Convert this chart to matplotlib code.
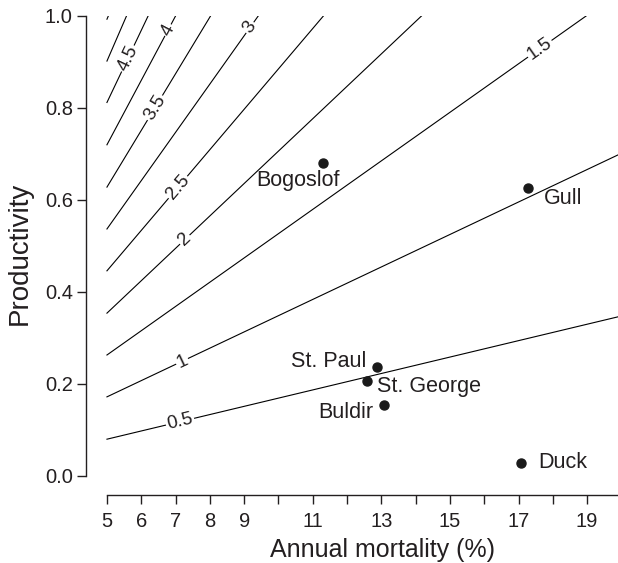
import numpy as np
import matplotlib
matplotlib.use("Agg")
import matplotlib.pyplot as plt

plt.rcParams['font.family'] = ['Liberation Sans', 'DejaVu Sans']

levels = ['0.5', '1', '1.5', '2', '2.5', '3', '3.5', '4', '4.5', '5', '5.5']
start_x = [5, 5, 5, 5, 5, 5, 5, 5, 5, 5, 5]
start_y = [0.080, 0.172, 0.263, 0.354, 0.446, 0.537, 0.628, 0.720, 0.812, 0.902, 0.993]
end_x = [19.9, 19.9, 18.97, 14.17, 11.31, 9.41, 8.02, 7.00, 6.20, 5.57, 5.04]
end_y = [0.346, 0.698, 1.0, 1.0, 1.0, 1.0, 1.0, 1.0, 1.0, 1.0, 1.0]
# where the inline labels sit (x position on each line)
label_x = [7.13, 7.19, 17.62, 7.27, 7.07, 9.17, 6.40, 6.78, 5.61, None, None]

# colonies
colonies = ['Bogoslof', 'Gull', 'St. Paul', 'St. George', 'Buldir', 'Duck']
mortality = [11.29, 17.27, 12.88, 12.59, 13.09, 17.06]
productivity = [0.681, 0.625, 0.236, 0.207, 0.154, 0.029]
# label offsets in points and alignment
offsets = [(-18, -13), (11.5, -7.5), (-8, 4), (7, -4), (-8, -5), (13, 0)]
aligns = ['center', 'left', 'right', 'left', 'right', 'left']

txt = '#231f20'

fig = plt.figure(figsize=(6.18, 5.63), dpi=100)
ax = fig.add_axes([0.1392, 0.1208, 0.8608, 0.8508])
ax.set_xlim(4.39, 19.9)
ax.set_ylim(-0.0413, 1.0)

for i in range(len(levels)):
    ax.plot([start_x[i], end_x[i]], [start_y[i], end_y[i]], color='black', lw=0.8, zorder=1)

# inline labels with a white gap
for i in range(len(levels)):
    if label_x[i] is None:
        continue
    x0, y0, x1, y1 = start_x[i], start_y[i], end_x[i], end_y[i]
    lx = label_x[i]
    ly = y0 + (y1 - y0) * (lx - x0) / (x1 - x0)
    p0 = ax.transData.transform((x0, y0))
    p1 = ax.transData.transform((x1, y1))
    ang = np.degrees(np.arctan2(p1[1] - p0[1], p1[0] - p0[0]))
    ax.text(lx, ly, levels[i], rotation=ang, rotation_mode='anchor',
            ha='center', va='center', fontsize=13.5, color=txt, zorder=2,
            bbox=dict(facecolor='white', edgecolor='none', pad=1.0))

ax.plot(mortality, productivity, 'o', color='#1a1a1a', ms=6.5, zorder=3)
for i in range(len(colonies)):
    ax.annotate(colonies[i], (mortality[i], productivity[i]), xytext=offsets[i],
                textcoords='offset points', ha=aligns[i], va='center', fontsize=15.5,
                color=txt)

for s in ['top', 'right']:
    ax.spines[s].set_visible(False)
ax.spines['left'].set_bounds(0, 1)
ax.spines['bottom'].set_bounds(5, 19.9)
ax.spines['left'].set_linewidth(1.0)
ax.spines['bottom'].set_linewidth(1.0)
ax.spines['left'].set_color(txt)
ax.spines['bottom'].set_color(txt)

ax.set_yticks([0.0, 0.2, 0.4, 0.6, 0.8, 1.0])
ax.set_yticklabels(['0.0', '0.2', '0.4', '0.6', '0.8', '1.0'])
ax.set_xticks(np.arange(5, 20))
ax.set_xticklabels(['5', '6', '7', '8', '9', '', '11', '', '13', '', '15', '', '17', '', '19'])
ax.tick_params(length=6.5, width=1.0, labelsize=14.5, colors=txt)
ax.tick_params(axis='x', pad=6)
ax.tick_params(axis='y', pad=3)

ax.set_xlabel('Annual mortality (%)', fontsize=18, color=txt)
ax.set_ylabel('Productivity', fontsize=20, color=txt)
ax.xaxis.set_label_coords(0.557, -0.09)
ax.yaxis.set_label_coords(-0.10, 0.505)

plt.savefig('out.png', dpi=100)
